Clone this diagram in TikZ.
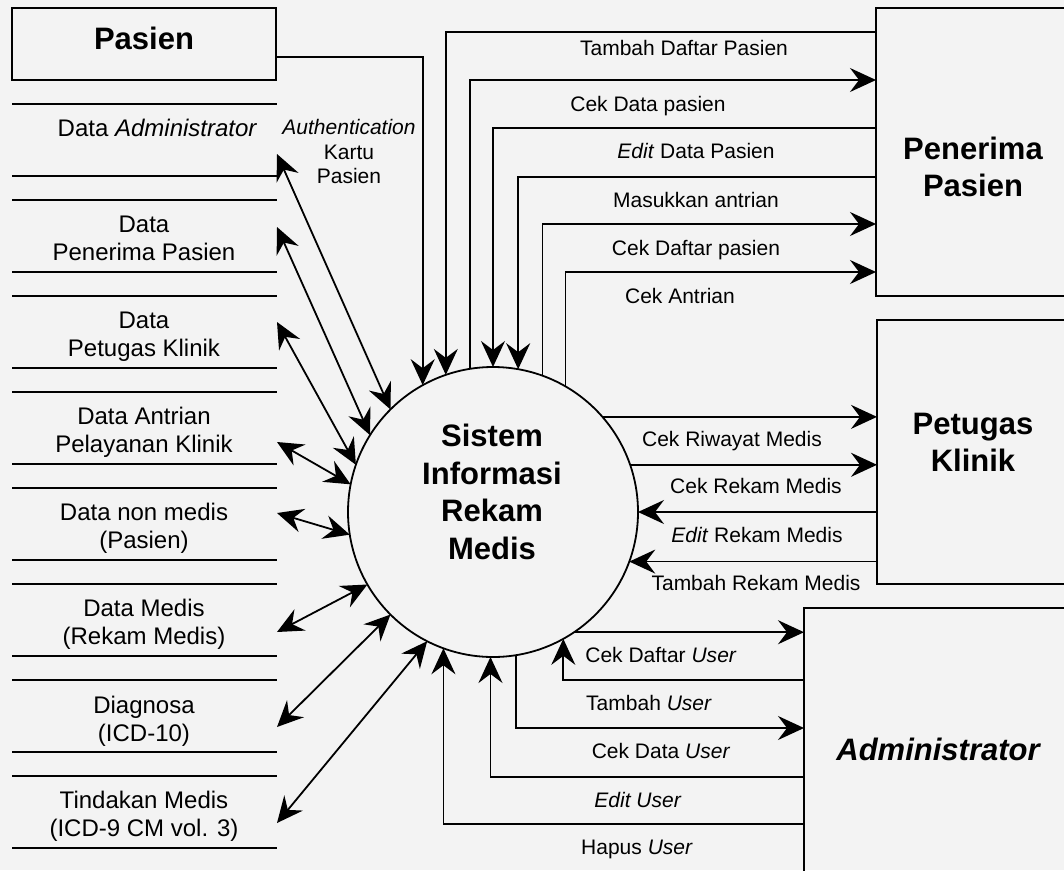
\documentclass[tikz,border=0pt]{standalone}
\usepackage{fontspec}
\setmainfont{Liberation Sans}
\usetikzlibrary{arrows.meta}
\definecolor{paper}{RGB}{243,243,243}
\begin{document}
\begin{tikzpicture}[x=1pt,y=-1pt,
  line width=1.8pt,
  >={Stealth[length=26pt,width=24pt,inset=9pt]},
  box/.style={draw, rectangle, inner sep=0pt, outer sep=0pt, anchor=north west},
  store/.style={rectangle, inner sep=0pt, outer sep=0pt, minimum width=265pt, minimum height=72pt},
  lbl/.style={font=\fontsize{21}{24.5}\selectfont, inner sep=0pt, anchor=base},
  dlbl/.style={font=\fontsize{24}{28}\selectfont, inner sep=0pt, align=center},
  ent/.style={font=\fontsize{31}{37.5}\selectfont\bfseries, inner sep=0pt, align=center},
]
\fill[paper] (0,0) rectangle (1064,870);
\useasboundingbox (0,0) rectangle (1064,870);
\clip (0,0) rectangle (1064,870);

% external entities
\node[box, minimum width=264pt, minimum height=72pt] (pas) at (12,8) {};
\node[ent, anchor=base] at (144,49.6) {Pasien};
\node[box, minimum width=230pt, minimum height=288pt] (pp) at (876,8) {};
\node[ent] at (973,167) {Penerima\\Pasien};
\node[box, minimum width=230pt, minimum height=264pt] (pk) at (877,320) {};
\node[ent] at (973,442.5) {Petugas\\Klinik};
\node[box, minimum width=300pt, minimum height=300pt] (adm) at (804,608) {};
\node[ent, anchor=base] at (938,760) {\itshape Administrator};

% the process
\node[draw, circle, minimum size=290pt, inner sep=0pt, outer sep=0pt] (sys) at (493,512) {};
\node[ent] at (492,492) {Sistem\\Informasi\\Rekam\\Medis};

% data stores
\foreach \i in {1,...,8} {
  \node[store] (ds\i) at (144.5,{140+96*(\i-1)}) {};
  \draw (ds\i.north west) -- (ds\i.north east) (ds\i.south west) -- (ds\i.south east);
}
\node[dlbl, anchor=base] at (157.5,136.6) {Data \textit{Administrator}};
\node[dlbl] at (144,238) {Data\\Penerima Pasien};
\node[dlbl] at (144,336.5) {Data\\Petugas Klinik};
\node[dlbl] at (144,432.5) {Data Antrian\\Pelayanan Klinik};
\node[dlbl] at (144,528.5) {Data non medis\\(Pasien)};
\node[dlbl] at (144,624.5) {Data Medis\\(Rekam Medis)};
\node[dlbl] at (144,721) {Diagnosa\\(ICD-10)};
\node[dlbl] at (144,816.5) {Tindakan Medis\\(ICD-9 CM vol. 3)};

% store <-> process
\draw[<->] ([yshift=-14pt]ds1.east) -- (sys.135.3);
\draw[<->] ([yshift=9pt]ds2.east) -- (sys.148.6);
\draw[<->] ([yshift=10pt]ds3.east) -- (sys.161.1);
\draw[<->] ([yshift=-14pt]ds4.east) -- (sys.169.9);
\draw[<->] ([yshift=11pt]ds5.east) -- (sys.189);
\draw[<->] ([yshift=-12pt]ds6.east) -- (sys.210.7);
\draw[<->] ([yshift=-11pt]ds7.east) -- (sys.225);
\draw[<->] ([yshift=-11pt]ds8.east) -- (sys.243.4);

% Pasien
\draw[->] ([yshift=-13pt]pas.east) -| (sys.119.77);
\node[font=\fontsize{21}{24.5}\selectfont, align=center, inner sep=0pt] at (349,151.5)
  {\textit{Authentication}\\Kartu\\Pasien};

% Penerima Pasien
\draw[->] (pp.west |- 0,32) -| (sys.109.33);
\draw[->] (sys.99.93) |- (pp.west |- 0,80);
\draw[->] (pp.west |- 0,128) -| (sys.90.4);
\draw[->] (pp.west |- 0,177) -| (sys.80.87);
\draw[->] (sys.70.67) |- (pp.west |- 0,224);
\draw[->] (sys.60.68) |- (pp.west |- 0,272);
\node[lbl] at (684,55) {Tambah Daftar Pasien};
\node[lbl] at (648,111) {Cek Data pasien};
\node[lbl] at (696,158) {\textit{Edit} Data Pasien};
\node[lbl] at (696,207) {Masukkan antrian};
\node[lbl] at (696,255) {Cek Daftar pasien};
\node[lbl] at (680,303) {Cek Antrian};

% Petugas Klinik
\draw[->] (sys.41.46) -- (pk.west |- sys.41.46);
\draw[->] (sys.19.33) -- (pk.west |- sys.19.33);
\draw[->] (pk.west |- sys.east) -- (sys.east);
\draw[->] (pk.west |- sys.340.67) -- (sys.340.67);
\node[lbl] at (732,446.5) {Cek Riwayat Medis};
\node[lbl] at (756,493.5) {Cek Rekam Medis};
\node[lbl] at (757,542.5) {\textit{Edit} Rekam Medis};
\node[lbl] at (756,590) {Tambah Rekam Medis};

% Administrator
\draw[->] (sys.304.14) -- (adm.west |- sys.304.14);
\draw[->] (adm.west |- 0,680) -| (sys.299.32);
\draw[->] (sys.279.13) |- (adm.west |- 0,728);
\draw[->] (adm.west |- 0,777) -| (sys.269.6);
\draw[->] (adm.west |- 0,824) -| (sys.250.67);
\node[lbl] at (661,662.5) {Cek Daftar \textit{User}};
\node[lbl] at (649,710.5) {Tambah \textit{User}};
\node[lbl] at (661,758) {Cek Data \textit{User}};
\node[lbl] at (638,807) {\textit{Edit User}};
\node[lbl] at (637,854) {Hapus \textit{User}};
\end{tikzpicture}
\end{document}
